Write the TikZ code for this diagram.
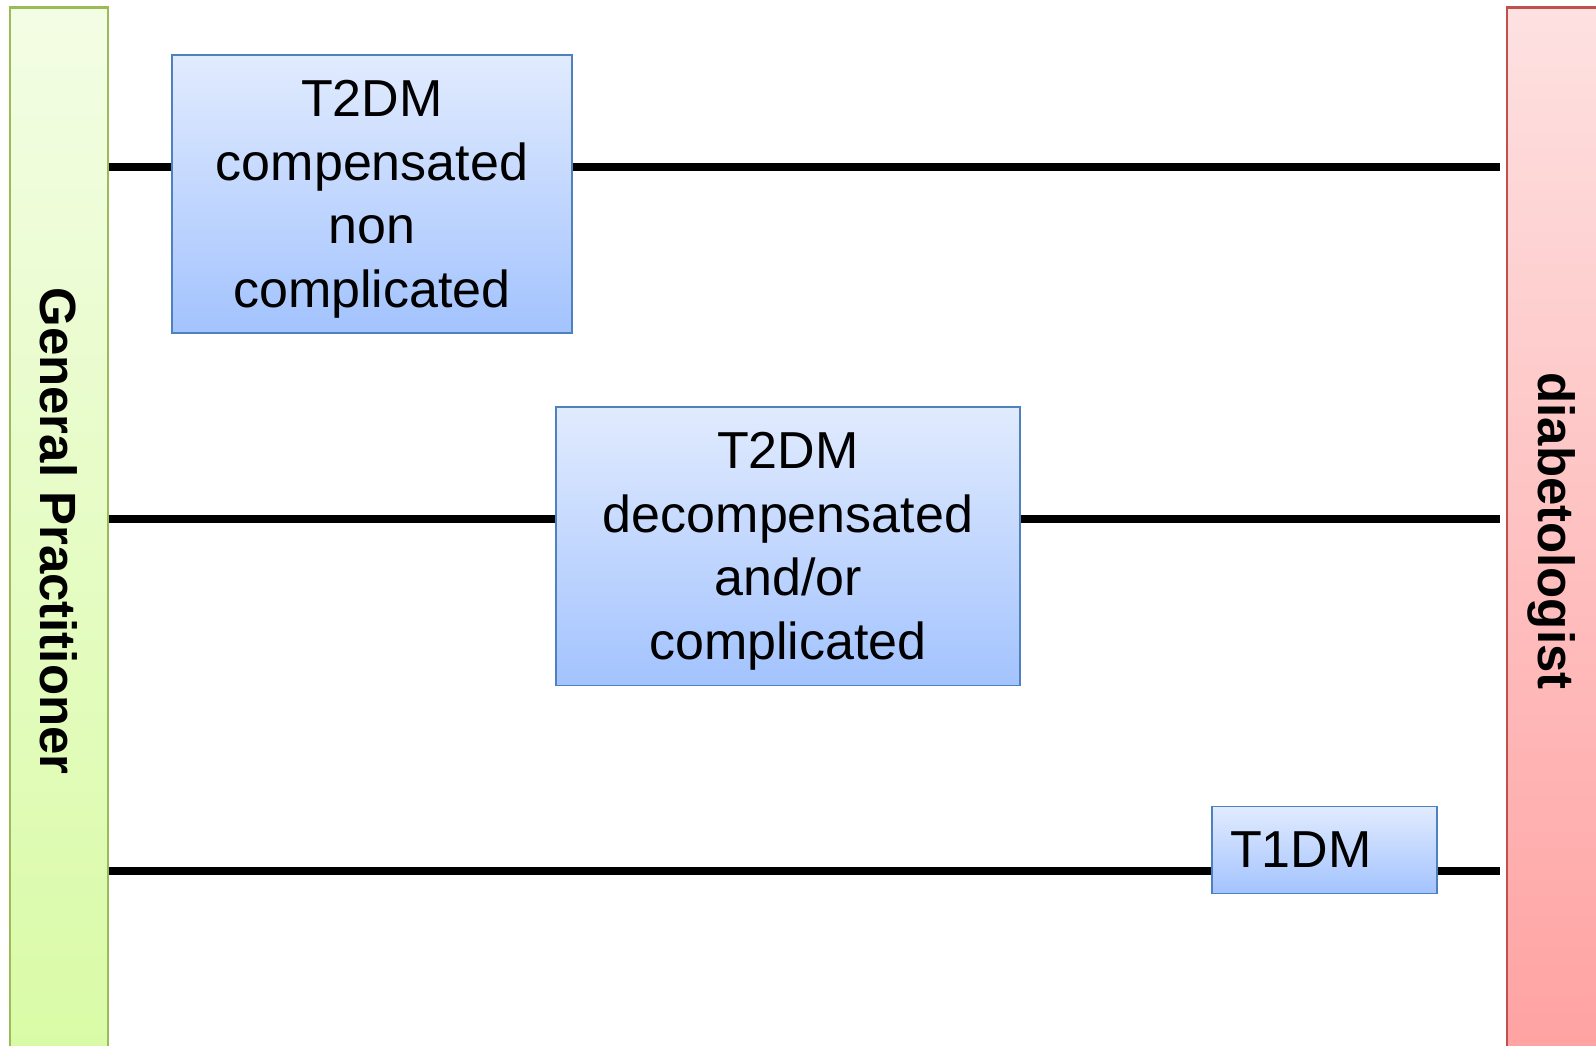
\documentclass[tikz,border=0pt]{standalone}
\usepackage{fontspec}
\setmainfont{Liberation Sans}
\usepackage{xcolor}
\usepackage{tikz}

\definecolor{gpline}{HTML}{9BBB59}
\definecolor{gptop}{HTML}{F3FDE4}
\definecolor{gpbot}{HTML}{D9FBA6}
\definecolor{diabline}{HTML}{C0504D}
\definecolor{diabtop}{HTML}{FEE1E1}
\definecolor{diabbot}{HTML}{FFA2A2}
\definecolor{boxline}{HTML}{4F81BD}
\definecolor{boxtop}{HTML}{E1EBFE}
\definecolor{boxbot}{HTML}{A3C3FE}

\begin{document}
\begin{tikzpicture}[x=0.02cm,y=-0.02cm,
    bar/.style={draw,line width=1.6pt,minimum width=1.96cm,minimum height=20.96cm,inner sep=0pt},
    bartext/.style={rotate=-90,font=\fontsize{29}{35}\selectfont\bfseries},
    casebox/.style={draw=boxline,line width=1.1pt,top color=boxtop,bottom color=boxbot,
        align=center,inner sep=0pt,text depth=0pt,font=\fontsize{29.6}{36.2}\selectfont},
    link/.style={line width=4pt}]
    \useasboundingbox (0,0) rectangle (1596,1045);
    \clip (0,0) rectangle (1596,1045);
    % the two sides
    \node[bar,draw=gpline,top color=gptop,bottom color=gpbot] (gp) at (59,531) {};
    \node[bar,draw=diabline,top color=diabtop,bottom color=diabbot] (diab) at (1556,531) {};
    \node[bartext] (gplabel) at (gp) {General Practitioner};
    \node[bartext] (diablabel) at (1552,531) {diabetologist};
    % the three paths
    \coordinate (end1) at (1500,167);
    \coordinate (end2) at (1500,519);
    \coordinate (end3) at (1500,871);
    \draw[link] (gp.east |- end1) -- (end1);
    \draw[link] (gp.east |- end2) -- (end2);
    \draw[link] (gp.east |- end3) -- (end3);
    % the cases
    \node[casebox,minimum width=8cm,minimum height=5.56cm] (t2comp) at (372,194)
        {T2DM\\compensated\\non\\complicated};
    \node[casebox,minimum width=9.28cm,minimum height=5.58cm] (t2decomp) at (788,546)
        {T2DM\\decompensated\\and/or\\complicated};
    \node[casebox,align=left,inner xsep=0.36cm,text width=3.78cm,minimum height=1.74cm] (t1) at (1324.5,850)
        {T1DM};
\end{tikzpicture}
\end{document}
